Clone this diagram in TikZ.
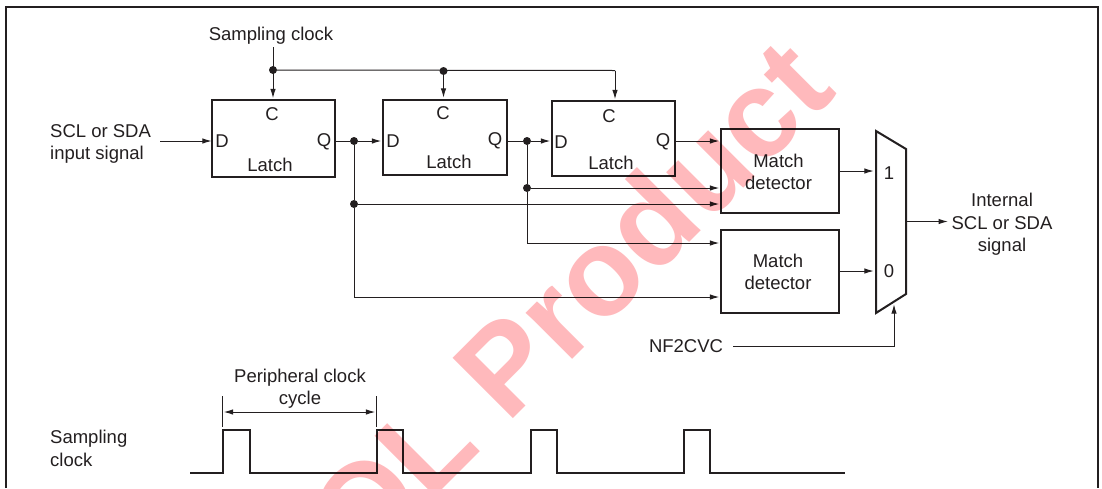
\documentclass[tikz,border=0pt]{standalone}
\usepackage{fontspec}
\setmainfont{Liberation Sans}
\usetikzlibrary{arrows.meta}
\definecolor{ink}{HTML}{231F20}
\definecolor{wm}{HTML}{FFB9BC}
\tikzset{
  x=1pt,y=-1pt,
  wire/.style={draw=ink,line width=1pt,-{Latex[length=9.5pt,width=5.5pt]}},
  plain/.style={draw=ink,line width=1pt},
  heavy/.style={draw=ink,line width=2pt},
  dot/.style={circle,fill=ink,inner sep=0pt,minimum size=8pt},
  lab/.style={font=\fontsize{18.5}{22.3}\selectfont,text=ink,inner sep=0pt,align=center},
  jn/.style={inner sep=0pt,minimum size=0pt}
}
\begin{document}
\begin{tikzpicture}
\useasboundingbox (0,0) rectangle (1102,488);
\fill[white] (0,0) rectangle (1102,488);
% frame
\draw[ink,line width=2pt] (6,488) -- (6,7) -- (1098,7) -- (1098,488);
% latches
\draw[heavy] (212,100) rectangle (335,177);
\node[jn] (l1d) at (212,141) {};
\node[jn] (l1q) at (336,141) {};
\node[jn] (l1c) at (273,98.5) {};
\draw[heavy] (383,99.5) rectangle (507,175);
\node[jn] (l2d) at (381.5,141) {};
\node[jn] (l2q) at (508,141) {};
\node[jn] (l2c) at (443.5,98) {};
\draw[heavy] (552,101) rectangle (675,176);
\node[jn] (l3d) at (550.5,141) {};
\node[jn] (l3q) at (676,141) {};
\node[jn] (l3c) at (615,99.5) {};
% match detectors
\draw[heavy] (721,129) rectangle (839,213);
\node[jn] (m1a) at (719.5,141) {};
\node[jn] (m1b) at (719.5,188) {};
\node[jn] (m1c) at (719.5,204) {};
\node[jn] (m1o) at (840,171) {};
\draw[heavy] (721,230) rectangle (839,313);
\node[jn] (m2a) at (719.5,243) {};
\node[jn] (m2b) at (719.5,297) {};
\node[jn] (m2o) at (840,271) {};
% mux
\draw[heavy,line join=miter] (876,131) -- (906,149) -- (906,294) -- (876,313) -- cycle;
\node[jn] (mx1) at (874,171) {};
\node[jn] (mx0) at (874,271) {};
\node[jn] (mxo) at (907,221.5) {};
\node[jn] (mxs) at (894,304) {};
% text
\node[lab] (t1) at (271,36) {Sampling clock};
\node[lab,align=left,anchor=west] (t2) at (50,144) {SCL or SDA\\input signal};
\node[lab] (tc1) at (272,114) {C};
\node[lab] (td1) at (222,141.5) {D};
\node[lab] (tq1) at (324,141.5) {Q};
\node[lab] (tl1) at (270,165) {Latch};
\node[lab] (tc2) at (443,113.5) {C};
\node[lab] (td2) at (393,141) {D};
\node[lab] (tq2) at (495,141) {Q};
\node[lab] (tl2) at (449,162) {Latch};
\node[lab] (tc3) at (609,116) {C};
\node[lab] (td3) at (561,142) {D};
\node[lab] (tq3) at (663,142) {Q};
\node[lab] (tl3) at (611,163) {Latch};
\node[lab] (tm1) at (778.5,172) {Match\\detector};
\node[lab] (tm2) at (778,272) {Match\\detector};
\node[lab] (t11) at (889,173) {1};
\node[lab] (t00) at (889,271) {0};
\node[lab] (ti) at (1002,224.5) {Internal\\SCL or SDA\\signal};
\node[lab] (tnf) at (686,346) {NF2CVC};
\node[lab] (tp) at (300,389) {Peripheral clock\\cycle};
\node[lab,align=left,anchor=west] (ts) at (50,448.5) {Sampling\\clock};
% sampling clock wires
\node[jn] (c0) at (273,47) {};
\node[dot] (d1) at (273,70) {};
\node[dot] (d2) at (443.5,71) {};
\coordinate (c3) at (615,70.5);
\draw[wire] (c0) -- (l1c);
\draw[plain] (d1) -- (c3);
\draw[wire] (d2) -- (l2c);
\draw[wire] (c3) -- (l3c);
% data wires
\node[jn] (in) at (160,141) {};
\draw[wire] (in) -- (l1d);
\node[dot] (q1) at (354,141) {};
\draw[plain] (l1q) -- (q1);
\draw[wire] (q1) -- (l2d);
\node[dot] (q2) at (527,141) {};
\draw[plain] (l2q) -- (q2);
\draw[wire] (q2) -- (l3d);
\draw[wire] (l3q) -- (m1a);
\node[dot] (q1b) at (354,204) {};
\draw[plain] (q1) -- (q1b);
\draw[wire] (q1b) -- (m1c);
\node[dot] (q2b) at (527,188) {};
\draw[plain] (q2) -- (q2b);
\draw[wire] (q2b) -- (m1b);
\coordinate (q2c) at (527,243);
\draw[wire] (q2b) -- (q2c) -- (m2a);
\coordinate (q1c) at (354,297);
\draw[wire] (q1b) -- (q1c) -- (m2b);
\draw[wire] (m1o) -- (mx1);
\draw[wire] (m2o) -- (mx0);
\draw[wire] (mxo) -- (948,221.5);
\node[jn] (nfs) at (733,346.5) {};
\coordinate (nfc) at (894,346.5);
\draw[wire] (nfs) -- (nfc) -- (mxs);
% waveform
\node[jn] (wa) at (190,473) {};
\node[jn] (wb) at (845,473) {};
\draw[heavy,line join=miter] (wa) -- (223,473) -- (223,430) -- (250,430) -- (250,473)
 -- (377,473) -- (377,430) -- (403,430) -- (403,473)
 -- (531,473) -- (531,430) -- (557,430) -- (557,473)
 -- (684,473) -- (684,430) -- (710,430) -- (710,473) -- (wb);
\node[jn] (ta) at (222.5,396) {};
\node[jn] (tb) at (222.5,427) {};
\node[jn] (tc) at (376.5,396) {};
\node[jn] (td) at (376.5,427) {};
\draw[plain,line width=0.8pt] (ta) -- (tb);
\draw[plain,line width=0.8pt] (tc) -- (td);
\node[jn] (aa) at (223.5,412) {};
\node[jn] (ab) at (375.5,412) {};
\draw[draw=ink,line width=1pt,{Latex[length=9.5pt,width=5.5pt]}-{Latex[length=9.5pt,width=5.5pt]}] (aa) -- (ab);
% watermark
\begin{scope}[blend mode=multiply]
\clip (0,0) rectangle (1102,488);
\node[text=wm,font=\fontsize{124}{124}\selectfont\bfseries,rotate=45,inner sep=0pt,anchor=base east] (wm) at (839,93) {EOL Product};
\end{scope}
\end{tikzpicture}
\end{document}
